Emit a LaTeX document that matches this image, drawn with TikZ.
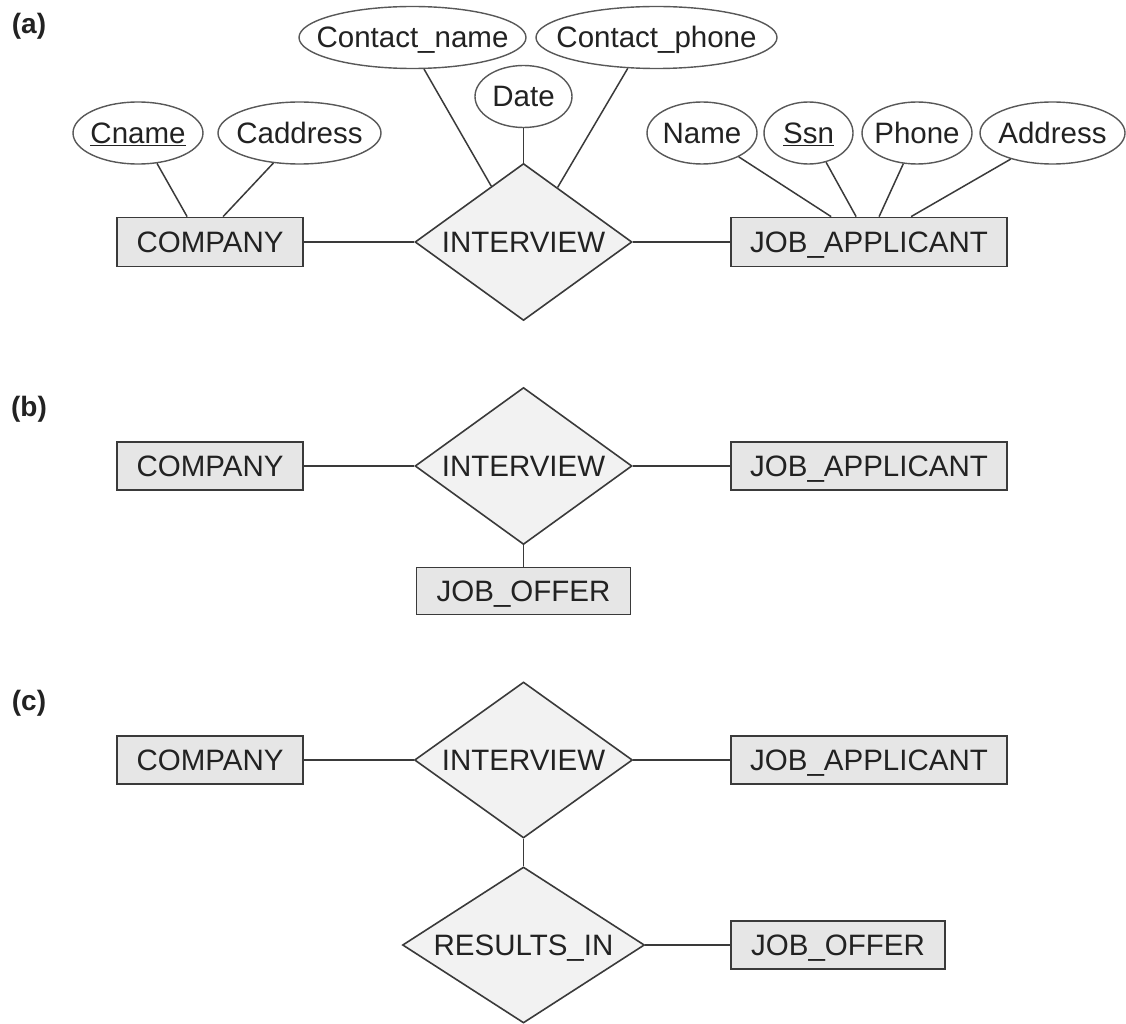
\documentclass[tikz,border=0pt]{standalone}
\usepackage{fontspec}
\setmainfont{Liberation Sans}
\usetikzlibrary{shapes.geometric,calc}
\definecolor{rectfill}{HTML}{E6E6E6}
\definecolor{relfill}{HTML}{F2F2F2}
\definecolor{edge}{HTML}{3A3A3A}
\definecolor{txt}{HTML}{222222}
\begin{document}
\begin{tikzpicture}[x=1pt,y=-1pt,
  every node/.style={text=txt,font=\fontsize{29.5}{34}\selectfont,text height=21pt,text depth=0pt},
  entity/.style={draw=edge,line width=1.8pt,fill=rectfill,rectangle,inner sep=0pt},
  rel/.style={draw=edge,line width=1.6pt,fill=relfill,diamond,inner sep=0pt},
  attr/.style={draw=edge!85,line width=1.4pt,fill=white,ellipse,inner sep=0pt,minimum height=62pt},
  conn/.style={draw=edge,line width=1.5pt},
  plabel/.style={font=\bfseries\fontsize{28}{32}\selectfont}]
\useasboundingbox (0,0) rectangle (1126,1024);

% ---------- (a) ----------
\node[plabel] (la) at (29,23) {(a)};
\node[entity,minimum width=186pt,minimum height=49pt] (compa) at (210,242) {COMPANY};
\node[rel,minimum width=217pt,minimum height=157pt] (iva) at (523.5,242) {\makebox[0pt]{INTERVIEW}};
\node[entity,minimum width=276pt,minimum height=49pt] (jaa) at (869,242) {JOB\_APPLICANT};

\node[attr,minimum width=130pt] (cname) at (138,133) {\makebox[0pt]{\underline{Cname}}};
\node[attr,minimum width=163pt] (caddr) at (299.5,133) {\makebox[0pt]{Caddress}};
\node[attr,minimum width=227pt] (cnm) at (412.5,37.5) {\makebox[0pt]{Contact\_name}};
\node[attr,minimum width=241pt] (cph) at (656.5,37.5) {\makebox[0pt]{Contact\_phone}};
\node[attr,minimum width=97pt] (date) at (523.5,96.5) {\makebox[0pt]{Date}};
\node[attr,minimum width=110pt] (name) at (702,133) {\makebox[0pt]{Name}};
\node[attr,minimum width=89pt] (ssn) at (808.5,133) {\makebox[0pt]{\underline{Ssn}}};
\node[attr,minimum width=110pt] (phone) at (917,133) {\makebox[0pt]{Phone}};
\node[attr,minimum width=145pt] (addr) at (1052.5,133) {\makebox[0pt]{Address}};

\draw[conn] (compa) -- (iva);
\draw[conn] (iva) -- (jaa);
\draw[conn] (cname.-58) -- ($(compa.north west)+(71,0)$);
\draw[conn] (caddr.-131) -- ($(compa.north west)+(107,0)$);
\draw[conn] (cnm.-70) -- (iva.120);
\draw[conn] (cph.-133) -- (iva.58);
\draw[conn] (date.south) -- (iva.north);
\draw[conn] (name.-33) -- ($(jaa.north west)+(101,0)$);
\draw[conn] (ssn.-59) -- ($(jaa.north west)+(126,0)$);
\draw[conn] (phone.-114) -- ($(jaa.north west)+(149,0)$);
\draw[conn] (addr.-148) -- ($(jaa.north west)+(181,0)$);

% ---------- (b) ----------
\node[plabel] (lb) at (29,406) {(b)};
\node[entity,minimum width=186pt,minimum height=48pt] (compb) at (210,466) {COMPANY};
\node[rel,minimum width=217pt,minimum height=157pt] (ivb) at (523.5,466) {\makebox[0pt]{INTERVIEW}};
\node[entity,minimum width=276pt,minimum height=48pt] (jab) at (869,466) {JOB\_APPLICANT};
\node[entity,minimum width=214pt,minimum height=47pt] (job) at (523.5,591) {JOB\_OFFER};
\draw[conn] (compb) -- (ivb);
\draw[conn] (ivb) -- (jab);
\draw[conn] (ivb.south) -- (job.north);

% ---------- (c) ----------
\node[plabel] (lc) at (29,700) {(c)};
\node[entity,minimum width=186pt,minimum height=48pt] (compc) at (210,760) {COMPANY};
\node[rel,minimum width=218pt,minimum height=156pt] (ivc) at (523.5,760) {\makebox[0pt]{INTERVIEW}};
\node[entity,minimum width=276pt,minimum height=48pt] (jac) at (869,760) {JOB\_APPLICANT};
\node[rel,minimum width=242pt,minimum height=156pt] (res) at (523.5,945) {\makebox[0pt]{RESULTS\_IN}};
\node[entity,minimum width=214pt,minimum height=48pt] (joc) at (838,945) {JOB\_OFFER};
\draw[conn] (compc) -- (ivc);
\draw[conn] (ivc) -- (jac);
\draw[conn] (ivc.south) -- (res.north);
\draw[conn] (res) -- (joc);
\end{tikzpicture}
\end{document}
